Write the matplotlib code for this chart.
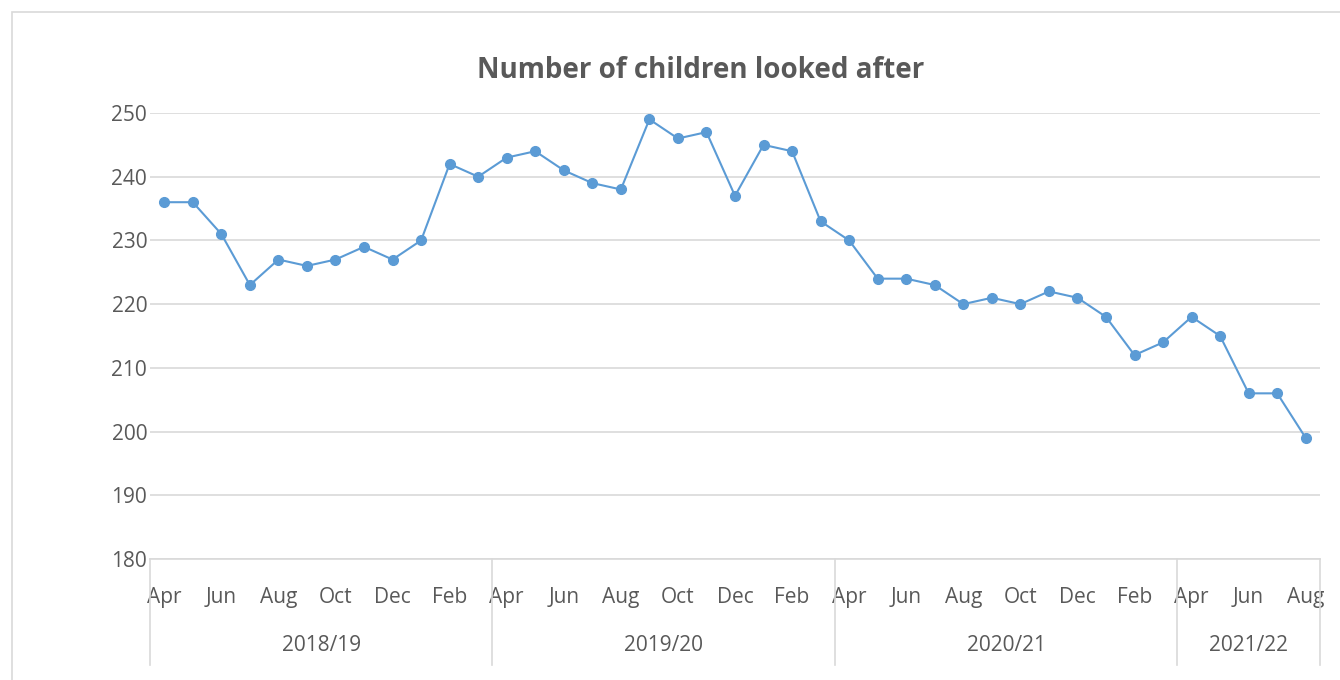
import matplotlib
matplotlib.use("Agg")
import matplotlib.pyplot as plt
import matplotlib.transforms as mtransforms
from matplotlib.patches import Rectangle

plt.rcParams["font.family"] = ["Open Sans", "DejaVu Sans"]

months = ["Apr", "May", "Jun", "Jul", "Aug", "Sep", "Oct", "Nov", "Dec", "Jan", "Feb", "Mar"]
years = ["2018/19", "2019/20", "2020/21", "2021/22"]
months_per_year = [12, 12, 12, 5]

values_2018 = [236, 236, 231, 223, 227, 226, 227, 229, 227, 230, 242, 240]
values_2019 = [243, 244, 241, 239, 238, 249, 246, 247, 237, 245, 244, 233]
values_2020 = [230, 224, 224, 223, 220, 221, 220, 222, 221, 218, 212, 214]
values_2021 = [218, 215, 206, 206, 199]

values = values_2018 + values_2019 + values_2020 + values_2021
labels = []
for n in months_per_year:
    labels += months[:n]
x = list(range(len(values)))

grey_text = "#595959"
grid_col = "#d9d9d9"

fig = plt.figure(figsize=(13.4, 6.8), dpi=100)
fig.patches.append(Rectangle((12 / 1340, -0.01), 1.0, 1.0 - 12 / 680 + 0.01, transform=fig.transFigure,
                             fill=False, edgecolor=grid_col, linewidth=1.2))

ax = fig.add_axes([150 / 1340, 1 - 559 / 680, 1170 / 1340, 446 / 680])
ax.plot(x, values, color="#5B9BD5", linewidth=1.5, marker="o", markersize=7, zorder=3)

ax.set_xlim(-0.5, len(values) - 0.5)
ax.set_ylim(180, 250)
ax.set_yticks(range(180, 251, 10))
ax.yaxis.grid(True, color=grid_col, linewidth=1.2)
ax.set_axisbelow(True)
for side in ["top", "right", "left"]:
    ax.spines[side].set_visible(False)
ax.spines["bottom"].set_color(grid_col)
ax.spines["bottom"].set_linewidth(1.2)

ax.set_xticks(x[::2])
ax.set_xticklabels(labels[::2])
ax.tick_params(axis="x", length=0, pad=20, labelsize=15, colors=grey_text)
ax.tick_params(axis="y", length=0, pad=2, labelsize=15, colors=grey_text)

trans = mtransforms.blended_transform_factory(ax.transData, ax.transAxes)
start = 0
bounds = [-0.5]
for year, n in zip(years, months_per_year):
    centre = start + (n - 1) / 2
    ax.text(centre, -0.193, year, transform=trans, ha="center", va="center",
            fontsize=15, color=grey_text)
    start += n
    bounds.append(start - 0.5)
for b in bounds:
    ax.plot([b, b], [0, -0.238], transform=trans, color=grid_col, linewidth=1.2, clip_on=False)

fig.text(701 / 1340, 1 - 70 / 680, "Number of children looked after", ha="center", va="center",
         fontsize=20, fontweight="bold", color=grey_text)

fig.savefig("out.png", dpi=100)
